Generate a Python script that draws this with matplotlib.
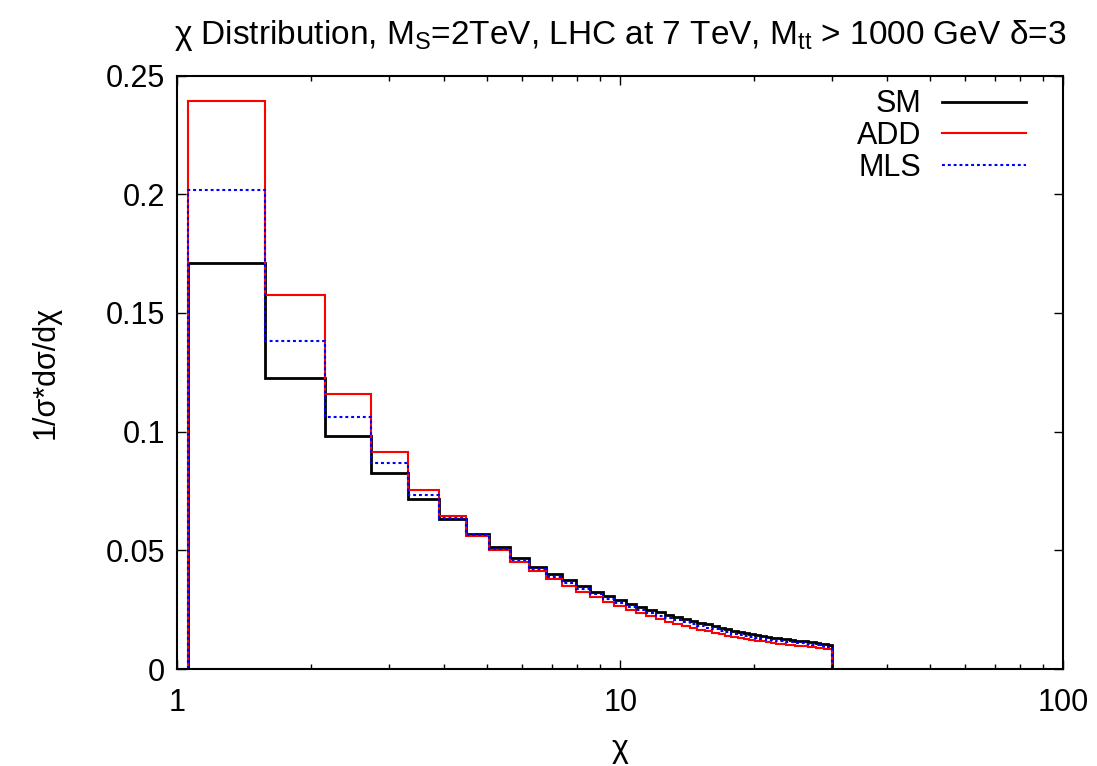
import matplotlib
matplotlib.use("Agg")
import matplotlib.pyplot as plt
from matplotlib.ticker import FixedLocator, LogLocator, NullFormatter, FuncFormatter

plt.rcParams['font.family'] = ['Liberation Sans', 'DejaVu Sans']
plt.rcParams['mathtext.default'] = 'regular'

# bin edges in chi
chi_edges = [1.06, 1.58, 2.16, 2.74, 3.32, 3.90, 4.48, 5.06, 5.64, 6.22, 6.80,
             7.38, 7.96, 8.54, 9.12, 9.70, 10.28, 10.86, 11.44, 12.02, 12.60,
             13.18, 13.76, 14.34, 14.92, 15.50, 16.08, 16.66, 17.24, 17.82, 18.40,
             18.98, 19.56, 20.14, 20.72, 21.30, 21.88, 22.46, 23.04, 23.62, 24.20,
             24.78, 25.36, 25.94, 26.52, 27.10, 27.68, 28.26, 28.84, 29.42, 30.00]

sm = [0.1710, 0.1227, 0.0980, 0.0827, 0.0716, 0.0634, 0.0569, 0.0514, 0.0467, 0.0431,
      0.0400, 0.0373, 0.0348, 0.0326, 0.0307, 0.0290, 0.0275, 0.0261, 0.0249, 0.0239,
      0.0229, 0.0220, 0.0212, 0.0204, 0.0196, 0.0188, 0.0181, 0.0174, 0.0168, 0.0162,
      0.0156, 0.0150, 0.0146, 0.0142, 0.0139, 0.0135, 0.0132, 0.0129, 0.0127, 0.0125,
      0.0122, 0.0120, 0.0118, 0.0116, 0.0114, 0.0112, 0.0109, 0.0107, 0.0104, 0.0101]

add = [0.2395, 0.1575, 0.1158, 0.0914, 0.0753, 0.0643, 0.0562, 0.0502, 0.0452, 0.0411,
       0.0379, 0.0350, 0.0324, 0.0302, 0.0282, 0.0264, 0.0249, 0.0235, 0.0222, 0.0211,
       0.0200, 0.0190, 0.0182, 0.0174, 0.0166, 0.0159, 0.0153, 0.0147, 0.0141, 0.0136,
       0.0131, 0.0127, 0.0123, 0.0119, 0.0116, 0.0113, 0.0110, 0.0107, 0.0105, 0.0103,
       0.0101, 0.0099, 0.0097, 0.0095, 0.0094, 0.0092, 0.0090, 0.0088, 0.0086, 0.0084]

mls = [0.2016, 0.1382, 0.1062, 0.0866, 0.0732, 0.0638, 0.0565, 0.0506, 0.0459, 0.0420,
       0.0389, 0.0362, 0.0336, 0.0314, 0.0294, 0.0277, 0.0262, 0.0248, 0.0236, 0.0225,
       0.0215, 0.0205, 0.0197, 0.0189, 0.0181, 0.0174, 0.0167, 0.0161, 0.0155, 0.0149,
       0.0144, 0.0139, 0.0135, 0.0131, 0.0128, 0.0124, 0.0121, 0.0118, 0.0116, 0.0114,
       0.0112, 0.0110, 0.0108, 0.0106, 0.0104, 0.0102, 0.0100, 0.0098, 0.0096, 0.0093]

series_labels = ["SM", "ADD", "MLS"]
y_ticks = [0, 0.05, 0.1, 0.15, 0.2, 0.25]
x_ticks = [1, 10, 100]

FS = 22

fig = plt.figure(figsize=(10.97, 7.66), dpi=100)
ax = fig.add_axes([0.1616, 0.1266, 0.8077, 0.7747])

ax.stairs(sm, chi_edges, baseline=0, color='black', lw=2.0, label=series_labels[0])
ax.stairs(add, chi_edges, baseline=0, color='#ff0000', lw=1.5, label=series_labels[1])
ax.stairs(mls, chi_edges, baseline=0, color='#0000ff', lw=1.5,
          linestyle=(0, (1.4, 1.4)), label=series_labels[2])

ax.set_xscale('log')
ax.set_xlim(1, 100)
ax.set_ylim(0, 0.25)
ax.xaxis.set_major_locator(FixedLocator(x_ticks))
ax.xaxis.set_major_formatter(FuncFormatter(lambda v, p: f"{v:g}"))
ax.xaxis.set_minor_locator(LogLocator(base=10, subs=range(2, 10)))
ax.xaxis.set_minor_formatter(NullFormatter())
ax.yaxis.set_major_locator(FixedLocator(y_ticks))
ax.yaxis.set_major_formatter(FuncFormatter(lambda v, p: f"{v:g}"))

ax.tick_params(which='both', direction='in', top=True, right=True, labelsize=FS)
ax.tick_params(axis='y', which='major', length=6.5, width=1.0, pad=9)
ax.tick_params(axis='x', which='major', length=6.5, width=1.0, pad=14)
ax.tick_params(which='minor', length=3.5, width=1.0)
for s in ax.spines.values():
    s.set_linewidth(1.5)

ax.set_xlabel('χ', fontsize=FS + 1, labelpad=11)
ax.set_ylabel('1/σ*dσ/dχ', fontsize=FS, labelpad=32)
ax.set_title('χ Distribution, M$_{S}$=2TeV, LHC at 7 TeV, M$_{tt}$ > 1000 GeV δ=3',
             fontsize=FS + 2, pad=23)

leg = ax.legend(loc='upper right', bbox_to_anchor=(0.958, 0.977), frameon=False,
                markerfirst=False, fontsize=FS, handlelength=2.75, handletextpad=0.69,
                labelspacing=0.06, borderpad=0, borderaxespad=0)

fig.savefig('out.png', dpi=100)
